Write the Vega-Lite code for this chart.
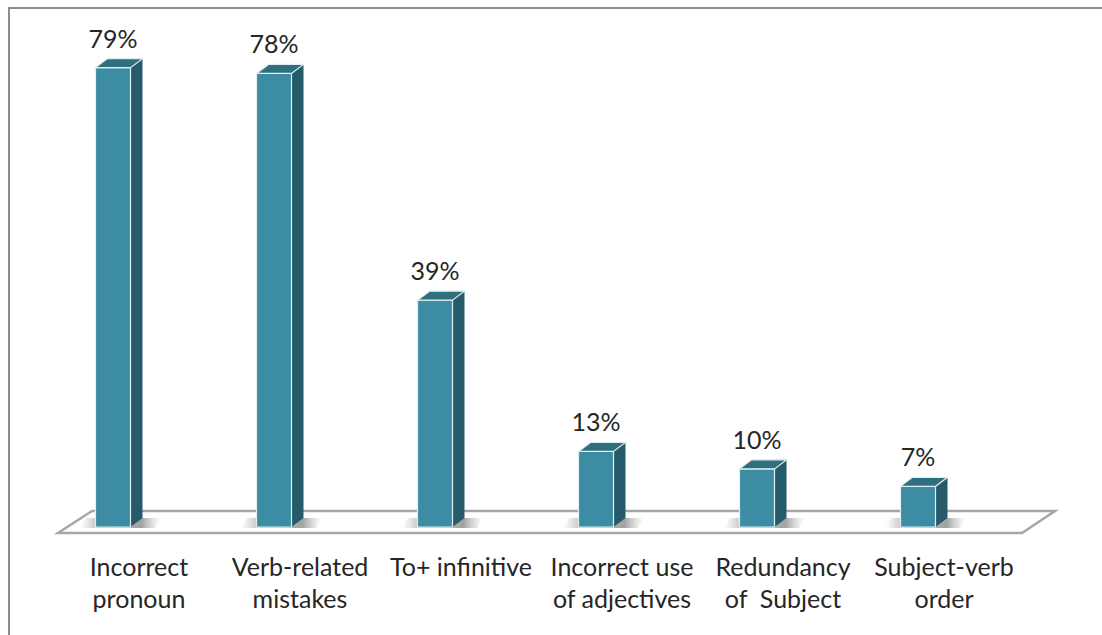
{
  "$schema": "https://vega.github.io/schema/vega-lite/v6.json",
  "width": 1099,
  "height": 633,
  "autosize": {"type": "none"},
  "padding": {"left": 9, "top": 8, "right": -6, "bottom": -6},
  "background": "white",
  "config": {"view": {"stroke": "#8c8c8c", "strokeWidth": 2}, "font": "Lato"},
  "data": {
    "values": [
      {"category": "Incorrect pronoun", "value": 79},
      {"category": "Verb-related mistakes", "value": 78},
      {"category": "To+ infinitive", "value": 39},
      {"category": "Incorrect use of adjectives", "value": 13},
      {"category": "Redundancy of  Subject", "value": 10},
      {"category": "Subject-verb order", "value": 7}
    ]
  },
  "encoding": {
    "x": {
      "field": "category",
      "type": "nominal",
      "sort": null,
      "scale": {"paddingInner": 0, "paddingOuter": 0.413, "align": 0.1767},
      "axis": {
        "title": null,
        "orient": "bottom",
        "offset": -114,
        "domain": false,
        "ticks": false,
        "tickSize": 0,
        "grid": false,
        "labelAngle": 0,
        "labelPadding": 28,
        "labelOffset": 26,
        "labelFont": "Lato",
        "labelFontSize": 25,
        "labelColor": "#262626",
        "labelLineHeight": 32,
        "labelLimit": 0,
        "labelOverlap": false,
        "labelExpr": "datum.label == 'Incorrect pronoun' ? ['Incorrect', 'pronoun'] : datum.label == 'Verb-related mistakes' ? ['Verb-related', 'mistakes'] : datum.label == 'Incorrect use of adjectives' ? ['Incorrect use', 'of adjectives'] : datum.label == 'Redundancy of  Subject' ? ['Redundancy', 'of\u00a0 Subject'] : datum.label == 'Subject-verb order' ? ['Subject-verb', 'order'] : datum.label"
      }
    }
  },
  "layer": [
    {
      "transform": [{"filter": "datum.category == 'Incorrect pronoun'"}],
      "mark": {
        "type": "point",
        "shape": "M-55,6 L-21,-16 L942,-16 L909,6 Z",
        "size": 4,
        "filled": true,
        "fill": "white",
        "stroke": "#a6a6a6",
        "strokeWidth": 2.5,
        "opacity": 1
      },
      "encoding": {
        "y": {
          "datum": 0,
          "type": "quantitative",
          "scale": {"domain": [-19.6, 89.25], "nice": false, "zero": false},
          "axis": null
        }
      }
    },
    {
      "mark": {
        "type": "point",
        "shape": "M-33,1 L42,1 L48,-9 L-27,-9 Z",
        "size": 4,
        "filled": true,
        "opacity": 1,
        "strokeWidth": 0,
        "fill": {
          "gradient": "linear",
          "x1": 0, "y1": 0, "x2": 1, "y2": 0,
          "stops": [
            {"offset": 0, "color": "rgba(160,160,160,0)"},
            {"offset": 0.2, "color": "rgba(130,130,130,0.45)"},
            {"offset": 0.76, "color": "rgba(100,100,100,0.6)"},
            {"offset": 1, "color": "rgba(160,160,160,0)"}
          ]
        }
      },
      "encoding": {"y": {"datum": 0, "type": "quantitative"}}
    },
    {
      "mark": {
        "type": "bar",
        "width": 12,
        "xOffset": 23.5,
        "yOffset": -9,
        "y2Offset": -9,
        "color": "#255b6a",
        "stroke": null
      },
      "encoding": {
        "y": {"field": "value", "type": "quantitative"},
        "y2": {"datum": 0}
      }
    },
    {
      "mark": {
        "type": "point",
        "shape": "M0,0 L0,-9 L12,-9 Z",
        "size": 4,
        "filled": true,
        "opacity": 1,
        "fill": "#255b6a",
        "strokeWidth": 0,
        "xOffset": 17.5
      },
      "encoding": {"y": {"datum": 0, "type": "quantitative"}}
    },
    {
      "mark": {
        "type": "bar",
        "width": 35,
        "color": "#3c8ca4",
        "stroke": "#e4eef1",
        "strokeWidth": 1.2
      },
      "encoding": {
        "y": {"field": "value", "type": "quantitative"},
        "y2": {"datum": 0}
      }
    },
    {
      "mark": {
        "type": "point",
        "shape": "M0,0 L35,0 L47,-9 L12,-9 Z",
        "size": 4,
        "filled": true,
        "opacity": 1,
        "fill": "#2e707f",
        "stroke": "#e4eef1",
        "strokeWidth": 1.2,
        "xOffset": -17.5
      },
      "encoding": {"y": {"field": "value", "type": "quantitative"}}
    },
    {
      "mark": {
        "type": "text",
        "text": {"expr": "datum.value + '%'"},
        "baseline": "alphabetic",
        "align": "center",
        "dy": -20,
        "font": "Lato",
        "fontSize": 25,
        "color": "#262626"
      },
      "encoding": {"y": {"field": "value", "type": "quantitative"}}
    }
  ]
}
